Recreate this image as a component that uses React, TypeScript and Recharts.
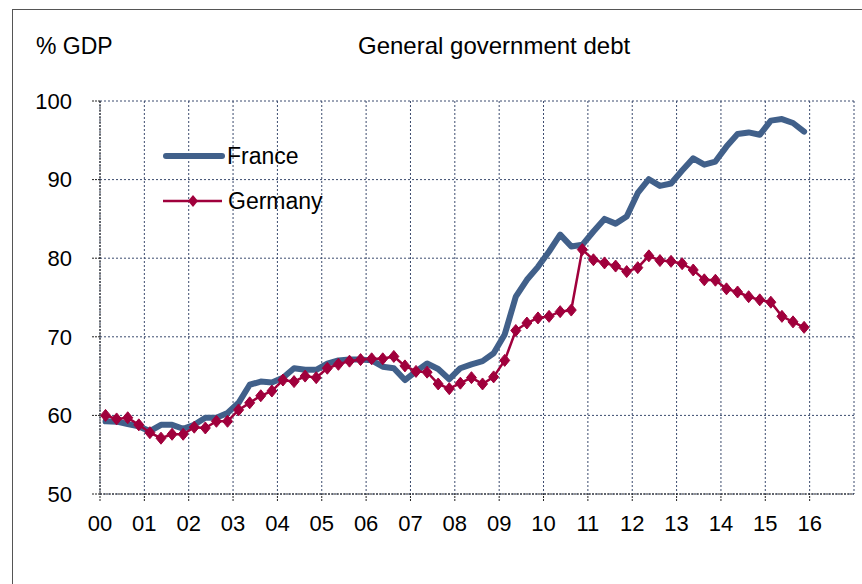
import { LineChart, Line, XAxis, YAxis, CartesianGrid } from 'recharts';

const YEARS = ['00', '01', '02', '03', '04', '05', '06', '07', '08', '09', '10', '11', '12', '13', '14', '15'];
const QUARTERS = [1, 2, 3, 4];
const X_TICK_LABELS = ['00', '01', '02', '03', '04', '05', '06', '07', '08', '09', '10', '11', '12', '13', '14', '15', '16'];
const Y_TICKS = [50, 60, 70, 80, 90, 100];

// quarterly, 2000Q1 .. 2015Q4
const france = [
  59.25, 59.2, 58.9, 58.6,
  58.0, 58.8, 58.8, 58.3,
  58.8, 59.7, 59.7, 60.3,
  61.6, 63.9, 64.3, 64.2,
  64.8, 66.0, 65.8, 65.8,
  66.6, 67.0, 67.1, 67.1,
  67.0, 66.2, 66.0, 64.5,
  65.6, 66.6, 65.9, 64.6,
  66.0, 66.5, 66.9, 67.9,
  70.3, 75.1, 77.25, 78.9,
  80.85, 83.0, 81.5, 81.7,
  83.4, 85.0, 84.4, 85.3,
  88.3, 90.05, 89.2, 89.5,
  91.15, 92.7, 91.9, 92.3,
  94.2, 95.8, 96.0, 95.7,
  97.5, 97.7, 97.2, 96.1,
];

const germany = [
  60.0, 59.55, 59.7, 58.8,
  57.8, 57.1, 57.6, 57.6,
  58.5, 58.4, 59.25, 59.25,
  60.7, 61.6, 62.5, 63.1,
  64.5, 64.3, 65.0, 64.8,
  66.0, 66.5, 66.9, 67.1,
  67.2, 67.2, 67.5, 66.3,
  65.6, 65.5, 64.0, 63.4,
  64.1, 64.8, 64.0, 64.9,
  67.0, 70.8, 71.75, 72.4,
  72.6, 73.2, 73.4, 81.1,
  79.8, 79.4, 79.0, 78.3,
  78.8, 80.3, 79.7, 79.6,
  79.3, 78.5, 77.25, 77.2,
  76.1, 75.7, 75.1, 74.7,
  74.4, 72.6, 71.9, 71.2,
];

const FRANCE_COLOR = '#41608a';
const GERMANY_COLOR = '#a0003c';
const GRID_COLOR = '#3b4b6e';
const FONT = '"Liberation Sans", Arial, sans-serif';

const chartData = YEARS.flatMap((y, yi) =>
  QUARTERS.map((q, qi) => {
    const i = yi * 4 + qi;
    return { period: `20${y}Q${q}`, t: yi + (q - 0.5) / 4, france: france[i], germany: germany[i] };
  })
);

const Diamond = (props: any) => {
  const { cx, cy, index } = props;
  if (cx == null || cy == null) return null;
  return (
    <path
      key={`d-${index}`}
      d={`M${cx},${cy - 6} L${cx + 5},${cy} L${cx},${cy + 6} L${cx - 5},${cy} Z`}
      fill={GERMANY_COLOR}
      stroke={GERMANY_COLOR}
      strokeWidth={1}
    />
  );
};

// legend drawn as an overlay so it doesn't eat into the plot area
const LegendBox = () => (
  <svg width={220} height={90} style={{ position: 'absolute', left: 137, top: 126, overflow: 'visible' }}>
    <line x1={16} y1={20} x2={72} y2={20} stroke={FRANCE_COLOR} strokeWidth={6} strokeLinecap="round" />
    <text x={77} y={20} dy="0.36em" fontSize={23} fontFamily={FONT} fill="#000">France</text>
    <line x1={13} y1={65} x2={72} y2={65} stroke={GERMANY_COLOR} strokeWidth={2.5} />
    <path d="M43,59 L48,65 L43,71 L38,65 Z" fill={GERMANY_COLOR} />
    <text x={78} y={65} dy="0.36em" fontSize={23} fontFamily={FONT} fill="#000">Germany</text>
  </svg>
);

export default function App() {
  return (
    <div style={{ position: 'relative', width: 862, height: 584, background: '#fff', fontFamily: FONT }}>
      <style>{`body{margin:0;overflow:hidden}`}</style>
      <div
        style={{
          position: 'absolute',
          left: 12,
          top: 9,
          width: 850,
          height: 575,
          borderLeft: '1px solid #555',
          borderTop: '1px solid #555',
        }}
      >
        <div style={{ position: 'absolute', left: 23, top: 24, fontSize: 23, lineHeight: '24px', color: '#000' }}>% GDP</div>
        <div style={{ position: 'absolute', left: 345, top: 24, fontSize: 24, lineHeight: '24px', color: '#000' }}>
          General government debt
        </div>
        <LineChart
          width={849}
          height={574}
          data={chartData}
          margin={{ top: 91, right: 8, bottom: 0, left: 0 }}
          style={{ position: 'absolute', left: 0, top: 0 }}
        >
          <CartesianGrid stroke={GRID_COLOR} strokeDasharray="2 2" strokeWidth={1} />
          <XAxis
            dataKey="t"
            type="number"
            domain={[0, 17]}
            ticks={X_TICK_LABELS.map((_, i) => i)}
            tickFormatter={(v: number) => X_TICK_LABELS[v] ?? ''}
            height={90}
            interval={0}
            tickSize={7}
            tickMargin={14}
            axisLine={{ stroke: '#222', strokeDasharray: '2 1' }}
            tickLine={{ stroke: '#222', strokeDasharray: '2 1' }}
            tick={{ fontSize: 22, fill: '#000', fontFamily: FONT }}
          />
          <YAxis
            type="number"
            domain={[50, 100]}
            ticks={Y_TICKS}
            width={87}
            interval={0}
            tickSize={8}
            tickMargin={20}
            axisLine={{ stroke: '#222', strokeDasharray: '2 1' }}
            tickLine={{ stroke: '#222', strokeDasharray: '2 1' }}
            tick={{ fontSize: 22, fill: '#000', fontFamily: FONT }}
          />
          <Line
            dataKey="france"
            name="France"
            stroke={FRANCE_COLOR}
            strokeWidth={6}
            strokeLinejoin="round"
            strokeLinecap="round"
            dot={false}
            isAnimationActive={false}
          />
          <Line
            dataKey="germany"
            name="Germany"
            stroke={GERMANY_COLOR}
            strokeWidth={2.5}
            dot={Diamond}
            activeDot={false}
            isAnimationActive={false}
          />
        </LineChart>
        <LegendBox />
      </div>
    </div>
  );
}
